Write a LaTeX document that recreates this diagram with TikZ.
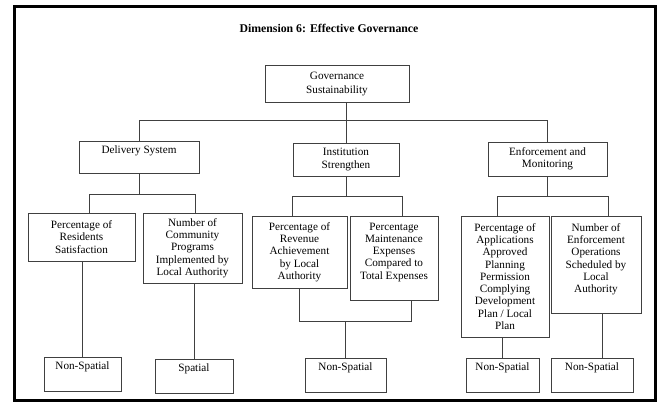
\documentclass[tikz,border=0pt]{standalone}
\usepackage{fontspec}
\setmainfont{Liberation Serif}

\begin{document}
\begin{tikzpicture}[x=1pt, y=-1pt,
  box/.style={draw=black!75, line width=0.8pt, align=center, inner sep=1pt,
    font=\fontsize{11.2}{12.3}\selectfont},
  leaf/.style={box, minimum height=34, text depth=16pt},
  link/.style={draw=black!75, line width=0.8pt}]
  \useasboundingbox (0,0) rectangle (662,405);
  \draw[line width=3pt] (14.5,6) rectangle (655,400);

  \node[font=\fontsize{11.8}{13}\selectfont\bfseries] (title) at (329,28)
    {Dimension 6: Effective Governance};

  % top levels
  \node[box, minimum width=144, minimum height=37,
    font=\fontsize{11.2}{14}\selectfont] (gov) at (337,83.5)
    {Governance\\Sustainability};
  \node[box, minimum width=120, minimum height=32, text depth=14pt] (deliv) at (139,157)
    {Delivery System};
  \node[box, minimum width=106, minimum height=33] (inst) at (346,159.5)
    {Institution\\Strengthen};
  \node[box, minimum width=119, minimum height=34] (enf) at (547.5,159)
    {Enforcement and\\Monitoring};

  % indicators
  \node[box, minimum width=107, minimum height=48] (res) at (81.5,237)
    {Percentage of\\Residents\\Satisfaction};
  \node[box, minimum width=99, minimum height=70] (comm) at (192.5,248)
    {Number of\\Community\\Programs\\Implemented by\\Local Authority};
  \node[box, minimum width=95, minimum height=72] (rev) at (299.5,252)
    {Percentage of\\Revenue\\Achievement\\by Local\\Authority};
  \node[box, minimum width=88, minimum height=84, text depth=14pt] (maint) at (394,258)
    {Percentage\\Maintenance\\Expenses\\Compared to\\Total Expenses};
  \node[box, minimum width=88, minimum height=121] (appl) at (505,276.5)
    {Percentage of\\Applications\\Approved\\Planning\\Permission\\Complying\\Development\\Plan / Local\\Plan};
  \node[box, minimum width=90, minimum height=97, text depth=13pt] (ops) at (596,264.5)
    {Number of\\Enforcement\\Operations\\Scheduled by\\Local\\Authority};

  % data type
  \node[leaf, minimum width=77] (leafA) at (82.5,374) {Non-Spatial};
  \node[leaf, minimum width=78] (leafB) at (194,376) {Spatial};
  \node[leaf, minimum width=81] (leafC) at (345.5,375) {Non-Spatial};
  \node[leaf, minimum width=73] (leafD) at (502.5,375) {Non-Spatial};
  \node[leaf, minimum width=82] (leafE) at (592,375) {Non-Spatial};

  \coordinate (bus) at (0,120);
  \coordinate (busA) at (0,194);
  \coordinate (busB) at (0,196);
  \coordinate (busM) at (0,321);

  \draw[link] (gov.south -| inst.north) -- (inst.north);
  \draw[link] (deliv.north) -- (deliv.north |- bus) -- (enf.north |- bus) -- (enf.north);

  \draw[link] (deliv.south) -- (deliv.south |- busA);
  \draw[link] ([xshift=8pt]res.north) -- ([xshift=8pt]res.north |- busA)
    -- ([xshift=2.5pt]comm.north |- busA) -- ([xshift=2.5pt]comm.north);
  \draw[link] (inst.south) -- (inst.south |- busB);
  \draw[link] ([xshift=-7.5pt]rev.north) -- ([xshift=-7.5pt]rev.north |- busB)
    -- ([xshift=8pt]maint.north |- busB) -- ([xshift=8pt]maint.north);
  \draw[link] (enf.south -| enf.north) -- (enf.south |- busB);
  \draw[link] ([xshift=-8pt]appl.north) -- ([xshift=-8pt]appl.north |- busB)
    -- ([xshift=12pt]ops.north |- busB) -- ([xshift=12pt]ops.north);

  \draw[link] (res.south -| leafA.north) -- (leafA.north);
  \draw[link] (comm.south -| leafB.north) -- (leafB.north);
  \draw[link] (rev.south) -- (rev.south |- busM)
    -- ([xshift=17pt]maint.south |- busM) -- ([xshift=17pt]maint.south);
  \draw[link] (leafC.north |- busM) -- (leafC.north);
  \draw[link] (appl.south -| leafD.north) -- (leafD.north);
  \draw[link] ([xshift=10pt]ops.south -| leafE.north) -- ([xshift=10pt]leafE.north);
\end{tikzpicture}
\end{document}
